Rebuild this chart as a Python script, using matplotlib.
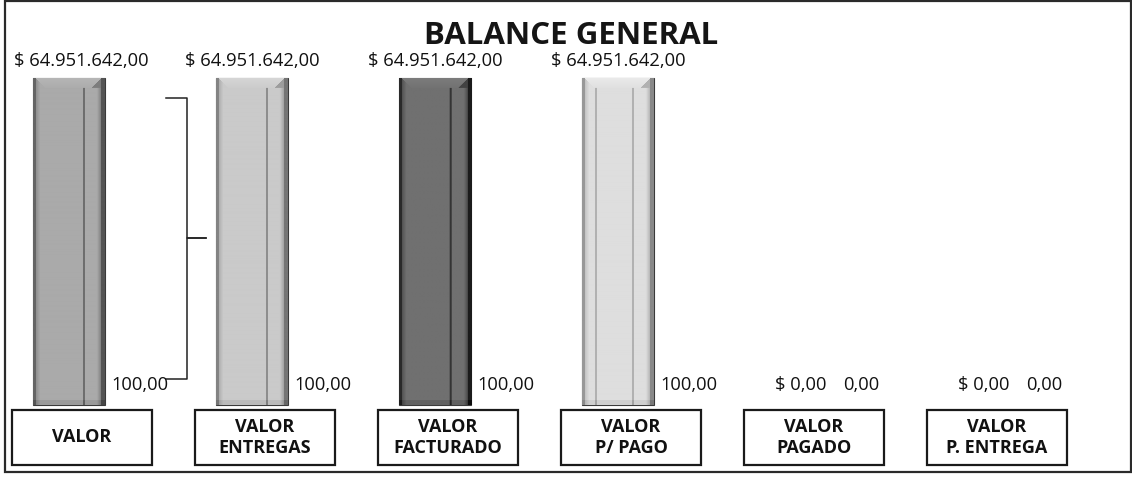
import numpy as np
import matplotlib

matplotlib.use("Agg")
import matplotlib.pyplot as plt
from matplotlib.patches import Rectangle
import matplotlib.transforms as mtransforms

plt.rcParams["font.family"] = ["Open Sans", "DejaVu Sans"]

# ── Data ──────────────────────────────────────────────────
categories = ["VALOR", "VALOR\nENTREGAS", "VALOR\nFACTURADO",
              "VALOR\nP/ PAGO", "VALOR\nPAGADO", "VALOR\nP. ENTREGA"]
valores = [64951642.00, 64951642.00, 64951642.00, 64951642.00, 0.00, 0.00]
porcentajes = [100.00, 100.00, 100.00, 100.00, 0.00, 0.00]
title = "BALANCE GENERAL"

# bar shading (base gray level 0-255) and an extra inner line for the lightest one
bar_gray = [170, 202, 112, 222]
inner_left = [False, False, False, True]


def fmt_num(v):
    s = f"{v:,.2f}"
    return s.replace(",", "X").replace(".", ",").replace("X", ".")


def bevel_texture(base, left_line=False, w=72, h=330):
    """Fake Excel bevel look: dark borders, inner line, shaded top edge."""
    col = np.full(w, float(base))
    col[:3] = base - 70
    col[3:8] = np.linspace(base - 25, base, 5)
    col[w - 8:w - 4] = np.linspace(base - 5, base - 35, 4)
    col[w - 4:] = base - 85
    col[50:52] = base - 60
    if left_line:
        col[13:15] = base - 45
        col[50:52] = base - 45
    arr = np.tile(col, (h, 1))
    # top bevel: lighter band, darker slope on the right corner
    for r in range(10):
        arr[r, 3 + r:w - 4 - r] = base + 12 - r
        arr[r, w - 4 - r:w - 4] = base - 45
    arr[-5:, :] -= 15
    return np.clip(arr, 0, 255)


# ── Layout (pixels in a 1132x478 canvas) ──────────────────
FW, FH = 1132, 478
frame_l, frame_r, frame_t, frame_b = 5, 1131, 1, 472
x0_px, step_px, bar_px = 69, 183, 72
base_px, top_px = 405, 78

fig = plt.figure(figsize=(FW / 100, FH / 100), dpi=100)
fig.patches.append(Rectangle((frame_l / FW, 1 - frame_b / FH),
                             (frame_r - frame_l) / FW, (frame_b - frame_t) / FH,
                             transform=fig.transFigure, fill=False,
                             edgecolor="#2a2a2a", lw=1.6))

ax = fig.add_axes([frame_l / FW, 1 - frame_b / FH,
                   (frame_r - frame_l) / FW, (frame_b - frame_t) / FH])
ax.axis("off")

vmax = max(valores)
ax_h = frame_b - frame_t
span = vmax * ax_h / (base_px - top_px)
ymin = -span * (frame_b - base_px) / ax_h
xmin = (frame_l - x0_px) / step_px
xmax = (frame_r - x0_px) / step_px

x = np.arange(len(categories))
width = bar_px / step_px
bars = ax.bar(x, valores, width=width, color="#b0b0b0",
              edgecolor=["#3a3a3a" if v > 0 else "none" for v in valores],
              lw=0.8, zorder=2)

for i, b in enumerate(bars):
    if valores[i] <= 0:
        continue
    bx, by = b.get_x(), b.get_y()
    im = ax.imshow(bevel_texture(bar_gray[i], inner_left[i]), cmap="gray",
                   vmin=0, vmax=255, aspect="auto", interpolation="bilinear",
                   extent=[bx, bx + b.get_width(), by, by + b.get_height()],
                   zorder=3)
    im.set_clip_path(b)

ax.set_xlim(xmin, xmax)
ax.set_ylim(ymin, ymin + span)

# value labels above bars
for i, v in enumerate(valores):
    dx = 12 if i == 0 else 0
    dy = 17 if v > 0 else 20
    ax.annotate(f"$ {fmt_num(v)}", (x[i], v), xytext=(dx, dy),
                textcoords="offset pixels", ha="center", va="center",
                fontsize=13.2, color="#111111", zorder=5)

# percentage labels at bar base, right side
for i, p in enumerate(porcentajes):
    ax.annotate(fmt_num(p), (x[i] + width / 2, 0), xytext=(6, 20),
                textcoords="offset pixels", ha="left", va="center",
                fontsize=13.2, color="#111111", zorder=5)

# leader bracket next to the first bar
bx_v = (187 - x0_px) / step_px
y_top = vmax * (base_px - 98) / (base_px - top_px)
y_mid = vmax * (base_px - 238) / (base_px - top_px)
y_bot = vmax * (base_px - 379) / (base_px - top_px)
arm_l = (166 - x0_px) / step_px
tick_r = (206 - x0_px) / step_px
ax.plot([arm_l, bx_v, bx_v, tick_r], [y_top, y_top, y_mid, y_mid],
        color="#222222", lw=1.1, zorder=4)
ax.plot([tick_r, bx_v, bx_v, arm_l], [y_mid, y_mid, y_bot, y_bot],
        color="#222222", lw=1.1, zorder=4)

# category boxes under the bars
trans = mtransforms.blended_transform_factory(ax.transData, ax.transAxes)
box_w = 140 / step_px
box_off = 13 / step_px
box_bot = (frame_b - 465) / ax_h
box_h = 55 / ax_h
for i, cat in enumerate(categories):
    cx = x[i] + box_off
    ax.add_patch(Rectangle((cx - box_w / 2, box_bot), box_w, box_h,
                           transform=trans, fill=False, edgecolor="#1a1a1a",
                           lw=1.6, zorder=4))
    ax.text(cx, box_bot + box_h / 2, cat, transform=trans, ha="center",
            va="center", fontsize=13, fontweight="bold", linespacing=1.2,
            color="#111111", zorder=5)

fig.text(571 / FW, 1 - 44 / FH, title, ha="center", va="baseline",
         fontsize=22.5, fontweight="bold", color="#151515")

fig.savefig("out.png", dpi=100)
plt.close(fig)
